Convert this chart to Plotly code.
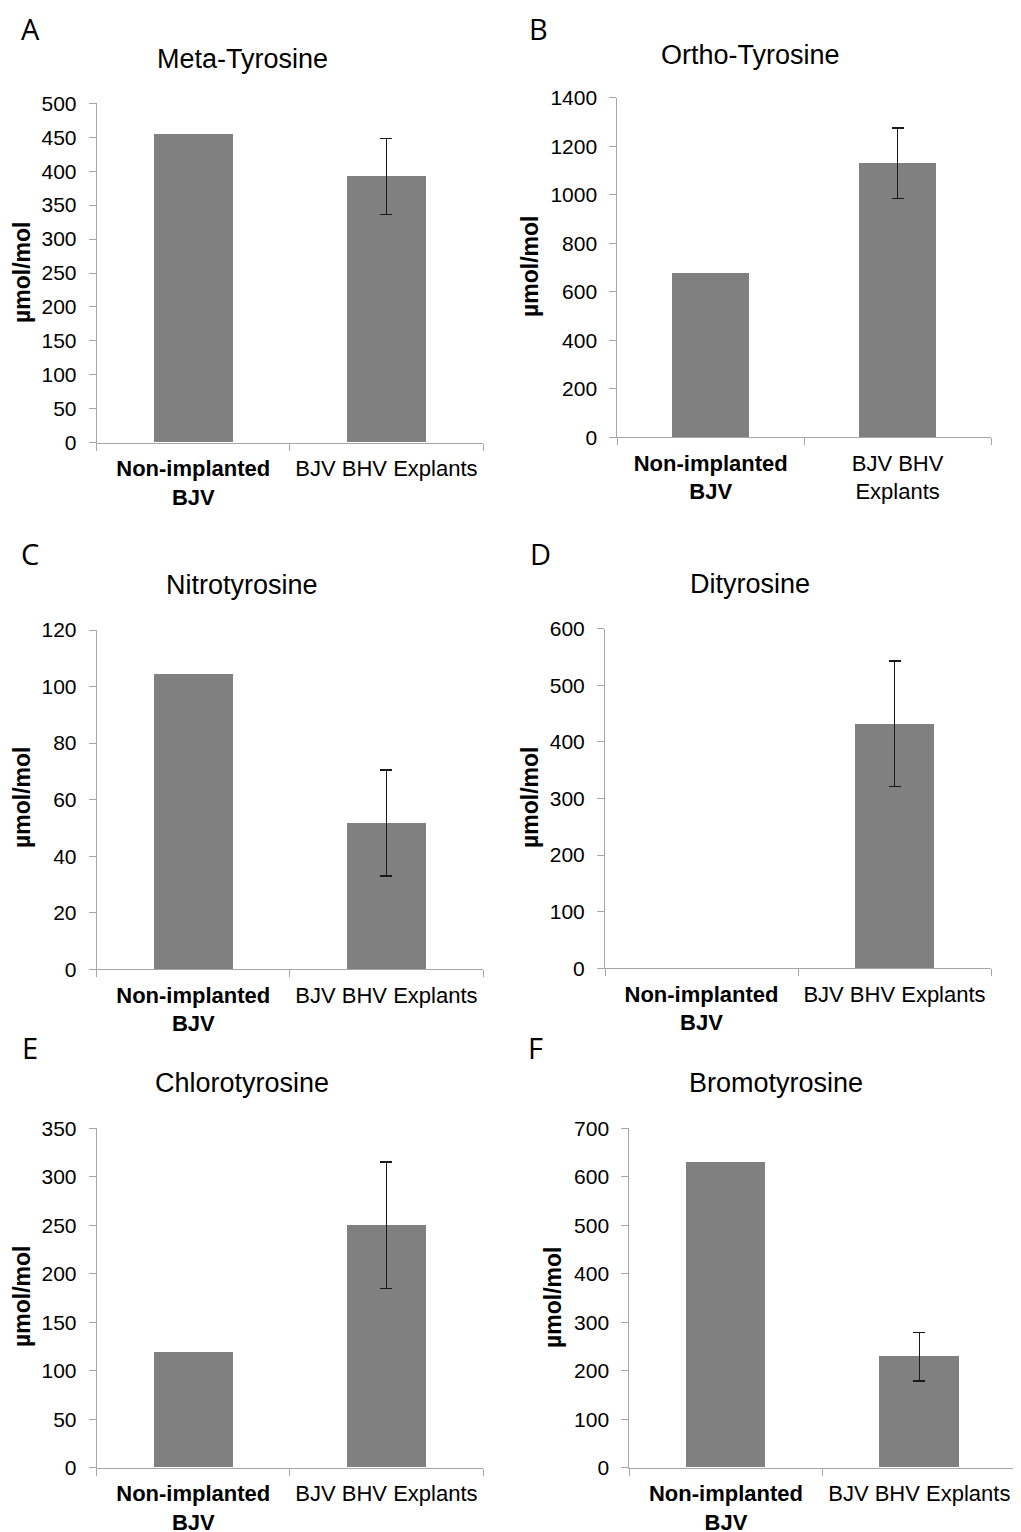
import plotly.graph_objects as go

W, H = 1021, 1532
OFF = 8  # page body margin in the browser

categories = ["Non-implanted BJV", "BJV BHV Explants"]

titles = ["Meta-Tyrosine", "Ortho-Tyrosine", "Nitrotyrosine", "Dityrosine", "Chlorotyrosine", "Bromotyrosine"]
letters = ["A", "B", "C", "D", "E", "F"]

meta_vals = [455, 392]
meta_err = [None, 56]
ortho_vals = [678, 1130]
ortho_err = [None, 145]
nitro_vals = [104.5, 51.8]
nitro_err = [None, 18.7]
di_vals = [0, 432]
di_err = [None, 111]
chloro_vals = [119, 250]
chloro_err = [None, 65]
bromo_vals = [629, 229]
bromo_err = [None, 50]

y_max = [500, 1400, 120, 600, 350, 700]
y_step = [50, 200, 20, 100, 50, 100]

ticktext_std = ["<b>Non-implanted<br>BJV</b>", "BJV BHV Explants"]
ticktext_b = ["<b>Non-implanted<br>BJV</b>", "BJV BHV<br>Explants"]
panel_ticktext = [ticktext_std, ticktext_b, ticktext_std, ticktext_std, ticktext_std, ticktext_std]

values = [meta_vals, ortho_vals, nitro_vals, di_vals, chloro_vals, bromo_vals]
errors = [meta_err, ortho_err, nitro_err, di_err, chloro_err, bromo_err]

# layout boxes in page pixels: (x0, x1, ytop, ybottom)
boxes = [
    (96.7, 483, 103.3, 442.7),
    (617.3, 991, 97.7, 437.3),
    (96.7, 483, 630, 969.3),
    (605, 991, 628.7, 968.3),
    (96.7, 483, 1128.3, 1467.7),
    (629.3, 1016, 1128.3, 1467.7),
]
title_pos = [(242, 59), (750, 55), (242, 585), (750, 584), (242, 1083), (776, 1083)]
letter_pos = [(30, 27), (538, 27), (30, 553), (540, 553), (30, 1047), (535, 1047)]
ytitle_pos = [(22, 273), (530, 267), (22, 798), (530, 798), (22, 1297), (553, 1298)]

FONT = "Liberation Sans, Arial, sans-serif"
AXIS_COLOR = "#a6a6a6"
BAR_COLOR = "#808080"
LETTER_SIZE = 29


def px(x):
    return (x - OFF) / W


def py(y):
    return 1 - (y - OFF) / H


fig = go.Figure()
annotations = []

for i in range(6):
    n = i + 1
    xa = "x" if n == 1 else f"x{n}"
    ya = "y" if n == 1 else f"y{n}"
    for j, cat in enumerate(categories):
        e = errors[i][j]
        err = dict(type="data", array=[e], visible=True, color="#1a1a1a", thickness=1.6, width=6) \
            if e is not None else dict(visible=False)
        fig.add_trace(go.Bar(
            x=[cat], y=[values[i][j]], xaxis=xa, yaxis=ya,
            marker=dict(color=BAR_COLOR, line=dict(width=0)),
            width=0.41, error_y=err, showlegend=False,
        ))
    x0, x1, yt, yb = boxes[i]
    xkey = "xaxis" if n == 1 else f"xaxis{n}"
    ykey = "yaxis" if n == 1 else f"yaxis{n}"
    fig.update_layout(**{
        xkey: dict(
            domain=[px(x0), px(x1)], anchor=ya, type="category",
            categoryorder="array", categoryarray=categories,
            range=[-0.5, 1.5], showline=True, linecolor=AXIS_COLOR, linewidth=1,
            ticks="outside", tickson="boundaries", ticklen=7, tickcolor=AXIS_COLOR,
            tickvals=categories, ticktext=panel_ticktext[i],
            tickfont=dict(family=FONT, size=22, color="#000"),
            ticklabelstandoff=6, automargin=False,
            showgrid=False, zeroline=False, fixedrange=True,
        ),
        ykey: dict(
            domain=[py(yb), py(yt)], anchor=xa,
            range=[0, y_max[i]], dtick=y_step[i], tick0=0,
            showline=True, linecolor=AXIS_COLOR, linewidth=1,
            ticks="outside", ticklen=7, tickcolor=AXIS_COLOR,
            tickfont=dict(family=FONT, size=21, color="#000"),
            ticklabelstandoff=8, automargin=False,
            showgrid=False, zeroline=False, fixedrange=True,
        ),
    })
    tx, ty = title_pos[i]
    annotations.append(dict(text=titles[i], x=px(tx), y=py(ty), xref="paper", yref="paper",
                            xanchor="center", yanchor="middle", showarrow=False,
                            font=dict(family=FONT, size=27, color="#000")))
    lx, ly = letter_pos[i]
    half_box = LETTER_SIZE * 0.65 + 1
    top = max(ly - half_box, OFF)
    annotations.append(dict(text=letters[i], x=px(lx), y=py(top), xref="paper", yref="paper",
                            xanchor="center", yanchor="top", showarrow=False, borderpad=0,
                            font=dict(family="Open Sans, sans-serif", size=LETTER_SIZE, color="#000")))
    ax_, ay_ = ytitle_pos[i]
    annotations.append(dict(text="<b>µmol/mol</b>", x=px(ax_), y=py(ay_), xref="paper", yref="paper",
                            xanchor="center", yanchor="middle", showarrow=False, textangle=-90,
                            font=dict(family=FONT, size=23, color="#000")))

fig.update_layout(
    width=W, height=H, autosize=False,
    margin=dict(l=0, r=0, t=0, b=0, pad=0),
    paper_bgcolor="white", plot_bgcolor="white",
    annotations=annotations,
    bargap=0, barmode="overlay",
)

fig.write_html("out.html")
